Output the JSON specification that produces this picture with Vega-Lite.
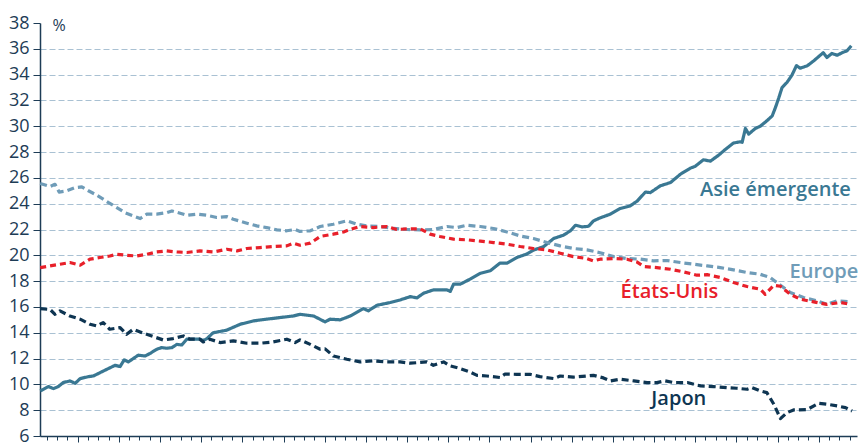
{
"$schema": "https://vega.github.io/schema/vega-lite/v6.json",
"width": 817, "height": 413,
"autosize": {"type": "none"},
"padding": {"left": 40, "top": 23, "right": 5, "bottom": 9},
"config": {"view": {"stroke": null}, "font": "Open Sans"},
"datasets": {
"series": [
{"serie":"Asie","annee":2004.09,"part":9.49},{"serie":"Asie","annee":2004.29,"part":9.83},{"serie":"Asie","annee":2004.41,"part":9.67},{"serie":"Asie","annee":2004.53,"part":9.83},{"serie":"Asie","annee":2004.65,"part":10.14},{"serie":"Asie","annee":2004.81,"part":10.27},{"serie":"Asie","annee":2004.94,"part":10.08},{"serie":"Asie","annee":2005.06,"part":10.45},{"serie":"Asie","annee":2005.26,"part":10.6},{"serie":"Asie","annee":2005.38,"part":10.65},{"serie":"Asie","annee":2005.54,"part":10.9},{"serie":"Asie","annee":2005.71,"part":11.17},{"serie":"Asie","annee":2005.91,"part":11.48},{"serie":"Asie","annee":2006.03,"part":11.38},{"serie":"Asie","annee":2006.13,"part":11.9},{"serie":"Asie","annee":2006.23,"part":11.74},{"serie":"Asie","annee":2006.35,"part":12.0},{"serie":"Asie","annee":2006.47,"part":12.26},{"serie":"Asie","annee":2006.64,"part":12.2},{"serie":"Asie","annee":2006.76,"part":12.4},{"serie":"Asie","annee":2006.92,"part":12.72},{"serie":"Asie","annee":2007.04,"part":12.85},{"serie":"Asie","annee":2007.16,"part":12.8},{"serie":"Asie","annee":2007.29,"part":12.85},{"serie":"Asie","annee":2007.41,"part":13.1},{"serie":"Asie","annee":2007.53,"part":13.05},{"serie":"Asie","annee":2007.65,"part":13.5},{"serie":"Asie","annee":2007.81,"part":13.5},{"serie":"Asie","annee":2007.97,"part":13.5},{"serie":"Asie","annee":2008.05,"part":13.4},{"serie":"Asie","annee":2008.14,"part":13.55},{"serie":"Asie","annee":2008.29,"part":14.0},{"serie":"Asie","annee":2008.62,"part":14.2},{"serie":"Asie","annee":2008.95,"part":14.66},{"serie":"Asie","annee":2009.27,"part":14.92},{"serie":"Asie","annee":2009.59,"part":15.05},{"serie":"Asie","annee":2009.92,"part":15.18},{"serie":"Asie","annee":2010.24,"part":15.3},{"serie":"Asie","annee":2010.40,"part":15.43},{"serie":"Asie","annee":2010.73,"part":15.3},{"serie":"Asie","annee":2011.01,"part":14.84},{"serie":"Asie","annee":2011.13,"part":15.05},{"serie":"Asie","annee":2011.38,"part":15.0},{"serie":"Asie","annee":2011.62,"part":15.3},{"serie":"Asie","annee":2011.94,"part":15.87},{"serie":"Asie","annee":2012.06,"part":15.7},{"serie":"Asie","annee":2012.27,"part":16.13},{"serie":"Asie","annee":2012.59,"part":16.34},{"serie":"Asie","annee":2012.83,"part":16.54},{"serie":"Asie","annee":2013.08,"part":16.8},{"serie":"Asie","annee":2013.24,"part":16.7},{"serie":"Asie","annee":2013.40,"part":17.06},{"serie":"Asie","annee":2013.64,"part":17.32},{"serie":"Asie","annee":2013.97,"part":17.32},{"serie":"Asie","annee":2014.05,"part":17.2},{"serie":"Asie","annee":2014.13,"part":17.76},{"serie":"Asie","annee":2014.29,"part":17.76},{"serie":"Asie","annee":2014.53,"part":18.15},{"serie":"Asie","annee":2014.78,"part":18.6},{"serie":"Asie","annee":2015.02,"part":18.8},{"serie":"Asie","annee":2015.26,"part":19.4},{"serie":"Asie","annee":2015.43,"part":19.4},{"serie":"Asie","annee":2015.67,"part":19.83},{"serie":"Asie","annee":2015.91,"part":20.1},{"serie":"Asie","annee":2016.07,"part":20.4},{"serie":"Asie","annee":2016.32,"part":20.68},{"serie":"Asie","annee":2016.56,"part":21.3},{"serie":"Asie","annee":2016.80,"part":21.56},{"serie":"Asie","annee":2016.97,"part":21.9},{"serie":"Asie","annee":2017.09,"part":22.33},{"serie":"Asie","annee":2017.25,"part":22.2},{"serie":"Asie","annee":2017.41,"part":22.25},{"serie":"Asie","annee":2017.53,"part":22.67},{"serie":"Asie","annee":2017.69,"part":22.9},{"serie":"Asie","annee":2017.94,"part":23.19},{"serie":"Asie","annee":2018.18,"part":23.63},{"serie":"Asie","annee":2018.42,"part":23.83},{"serie":"Asie","annee":2018.59,"part":24.2},{"serie":"Asie","annee":2018.79,"part":24.9},{"serie":"Asie","annee":2018.91,"part":24.86},{"serie":"Asie","annee":2019.15,"part":25.38},{"serie":"Asie","annee":2019.40,"part":25.64},{"serie":"Asie","annee":2019.64,"part":26.28},{"serie":"Asie","annee":2019.88,"part":26.75},{"serie":"Asie","annee":2020.00,"part":26.9},{"serie":"Asie","annee":2020.20,"part":27.4},{"serie":"Asie","annee":2020.37,"part":27.3},{"serie":"Asie","annee":2020.57,"part":27.76},{"serie":"Asie","annee":2020.73,"part":28.2},{"serie":"Asie","annee":2020.93,"part":28.7},{"serie":"Asie","annee":2021.10,"part":28.8},{"serie":"Asie","annee":2021.14,"part":28.75},{"serie":"Asie","annee":2021.22,"part":29.83},{"serie":"Asie","annee":2021.30,"part":29.39},{"serie":"Asie","annee":2021.46,"part":29.83},{"serie":"Asie","annee":2021.58,"part":30.0},{"serie":"Asie","annee":2021.74,"part":30.42},{"serie":"Asie","annee":2021.87,"part":30.8},{"serie":"Asie","annee":2021.95,"part":31.46},{"serie":"Asie","annee":2022.03,"part":32.2},{"serie":"Asie","annee":2022.11,"part":33.0},{"serie":"Asie","annee":2022.23,"part":33.4},{"serie":"Asie","annee":2022.35,"part":33.96},{"serie":"Asie","annee":2022.46,"part":34.7},{"serie":"Asie","annee":2022.55,"part":34.5},{"serie":"Asie","annee":2022.72,"part":34.68},{"serie":"Asie","annee":2022.88,"part":35.07},{"serie":"Asie","annee":2023.00,"part":35.4},{"serie":"Asie","annee":2023.11,"part":35.7},{"serie":"Asie","annee":2023.20,"part":35.33},{"serie":"Asie","annee":2023.32,"part":35.64},{"serie":"Asie","annee":2023.45,"part":35.5},{"serie":"Asie","annee":2023.57,"part":35.7},{"serie":"Asie","annee":2023.69,"part":35.85},{"serie":"Asie","annee":2023.79,"part":36.23},
{"serie":"Europe","annee":2004.09,"part":25.57},{"serie":"Europe","annee":2004.33,"part":25.33},{"serie":"Europe","annee":2004.45,"part":25.5},{"serie":"Europe","annee":2004.55,"part":24.9},{"serie":"Europe","annee":2004.73,"part":24.99},{"serie":"Europe","annee":2004.94,"part":25.25},{"serie":"Europe","annee":2005.10,"part":25.3},{"serie":"Europe","annee":2005.26,"part":25.0},{"serie":"Europe","annee":2005.42,"part":24.74},{"serie":"Europe","annee":2005.62,"part":24.35},{"serie":"Europe","annee":2005.74,"part":24.1},{"serie":"Europe","annee":2005.95,"part":23.7},{"serie":"Europe","annee":2006.15,"part":23.3},{"serie":"Europe","annee":2006.35,"part":23.05},{"serie":"Europe","annee":2006.52,"part":22.85},{"serie":"Europe","annee":2006.68,"part":23.19},{"serie":"Europe","annee":2006.92,"part":23.19},{"serie":"Europe","annee":2007.16,"part":23.3},{"serie":"Europe","annee":2007.29,"part":23.44},{"serie":"Europe","annee":2007.49,"part":23.26},{"serie":"Europe","annee":2007.65,"part":23.1},{"serie":"Europe","annee":2007.89,"part":23.19},{"serie":"Europe","annee":2008.14,"part":23.1},{"serie":"Europe","annee":2008.38,"part":22.93},{"serie":"Europe","annee":2008.62,"part":23.0},{"serie":"Europe","annee":2008.78,"part":22.8},{"serie":"Europe","annee":2009.11,"part":22.49},{"serie":"Europe","annee":2009.35,"part":22.28},{"serie":"Europe","annee":2009.59,"part":22.15},{"serie":"Europe","annee":2009.84,"part":21.97},{"serie":"Europe","annee":2010.08,"part":21.9},{"serie":"Europe","annee":2010.28,"part":22.0},{"serie":"Europe","annee":2010.40,"part":21.85},{"serie":"Europe","annee":2010.65,"part":21.9},{"serie":"Europe","annee":2010.89,"part":22.23},{"serie":"Europe","annee":2011.21,"part":22.41},{"serie":"Europe","annee":2011.54,"part":22.67},{"serie":"Europe","annee":2011.78,"part":22.41},{"serie":"Europe","annee":2012.02,"part":22.28},{"serie":"Europe","annee":2012.35,"part":22.23},{"serie":"Europe","annee":2012.67,"part":22.08},{"serie":"Europe","annee":2013.00,"part":22.0},{"serie":"Europe","annee":2013.32,"part":21.97},{"serie":"Europe","annee":2013.64,"part":22.0},{"serie":"Europe","annee":2013.97,"part":22.23},{"serie":"Europe","annee":2014.21,"part":22.15},{"serie":"Europe","annee":2014.45,"part":22.33},{"serie":"Europe","annee":2014.78,"part":22.23},{"serie":"Europe","annee":2015.10,"part":22.08},{"serie":"Europe","annee":2015.43,"part":21.81},{"serie":"Europe","annee":2015.75,"part":21.5},{"serie":"Europe","annee":2016.07,"part":21.3},{"serie":"Europe","annee":2016.40,"part":20.99},{"serie":"Europe","annee":2016.72,"part":20.73},{"serie":"Europe","annee":2017.04,"part":20.53},{"serie":"Europe","annee":2017.37,"part":20.42},{"serie":"Europe","annee":2017.69,"part":20.2},{"serie":"Europe","annee":2018.02,"part":19.9},{"serie":"Europe","annee":2018.34,"part":19.75},{"serie":"Europe","annee":2018.67,"part":19.7},{"serie":"Europe","annee":2018.99,"part":19.57},{"serie":"Europe","annee":2019.31,"part":19.6},{"serie":"Europe","annee":2019.64,"part":19.44},{"serie":"Europe","annee":2019.96,"part":19.31},{"serie":"Europe","annee":2020.29,"part":19.18},{"serie":"Europe","annee":2020.61,"part":19.05},{"serie":"Europe","annee":2020.93,"part":18.87},{"serie":"Europe","annee":2021.26,"part":18.67},{"serie":"Europe","annee":2021.58,"part":18.53},{"serie":"Europe","annee":2021.82,"part":18.28},{"serie":"Europe","annee":2022.07,"part":17.68},{"serie":"Europe","annee":2022.31,"part":17.12},{"serie":"Europe","annee":2022.63,"part":16.73},{"serie":"Europe","annee":2022.96,"part":16.47},{"serie":"Europe","annee":2023.20,"part":16.2},{"serie":"Europe","annee":2023.45,"part":16.47},{"serie":"Europe","annee":2023.77,"part":16.39},
{"serie":"États-Unis","annee":2004.09,"part":19.05},{"serie":"États-Unis","annee":2004.33,"part":19.18},{"serie":"États-Unis","annee":2004.57,"part":19.31},{"serie":"États-Unis","annee":2004.81,"part":19.44},{"serie":"États-Unis","annee":2005.06,"part":19.23},{"serie":"États-Unis","annee":2005.30,"part":19.7},{"serie":"États-Unis","annee":2005.54,"part":19.83},{"serie":"États-Unis","annee":2005.78,"part":19.95},{"serie":"États-Unis","annee":2005.95,"part":20.08},{"serie":"États-Unis","annee":2006.19,"part":20.0},{"serie":"États-Unis","annee":2006.43,"part":19.95},{"serie":"États-Unis","annee":2006.68,"part":20.08},{"serie":"États-Unis","annee":2006.92,"part":20.26},{"serie":"États-Unis","annee":2007.16,"part":20.34},{"serie":"États-Unis","annee":2007.41,"part":20.26},{"serie":"États-Unis","annee":2007.65,"part":20.22},{"serie":"États-Unis","annee":2007.97,"part":20.34},{"serie":"États-Unis","annee":2008.30,"part":20.26},{"serie":"États-Unis","annee":2008.62,"part":20.47},{"serie":"États-Unis","annee":2008.87,"part":20.34},{"serie":"États-Unis","annee":2009.11,"part":20.53},{"serie":"États-Unis","annee":2009.43,"part":20.6},{"serie":"États-Unis","annee":2009.75,"part":20.68},{"serie":"États-Unis","annee":2010.08,"part":20.73},{"serie":"États-Unis","annee":2010.24,"part":20.94},{"serie":"États-Unis","annee":2010.40,"part":20.78},{"serie":"États-Unis","annee":2010.65,"part":20.94},{"serie":"États-Unis","annee":2010.89,"part":21.46},{"serie":"États-Unis","annee":2011.21,"part":21.64},{"serie":"États-Unis","annee":2011.46,"part":21.81},{"serie":"États-Unis","annee":2011.62,"part":22.0},{"serie":"États-Unis","annee":2011.86,"part":22.23},{"serie":"États-Unis","annee":2012.18,"part":22.15},{"serie":"États-Unis","annee":2012.51,"part":22.23},{"serie":"États-Unis","annee":2012.75,"part":22.0},{"serie":"États-Unis","annee":2013.00,"part":22.05},{"serie":"États-Unis","annee":2013.32,"part":22.05},{"serie":"États-Unis","annee":2013.56,"part":21.64},{"serie":"États-Unis","annee":2013.80,"part":21.46},{"serie":"États-Unis","annee":2014.13,"part":21.25},{"serie":"États-Unis","annee":2014.45,"part":21.2},{"serie":"États-Unis","annee":2014.78,"part":21.1},{"serie":"États-Unis","annee":2015.10,"part":20.99},{"serie":"États-Unis","annee":2015.43,"part":20.86},{"serie":"États-Unis","annee":2015.75,"part":20.68},{"serie":"États-Unis","annee":2016.07,"part":20.53},{"serie":"États-Unis","annee":2016.40,"part":20.42},{"serie":"États-Unis","annee":2016.72,"part":20.16},{"serie":"États-Unis","annee":2017.04,"part":19.9},{"serie":"États-Unis","annee":2017.37,"part":19.75},{"serie":"États-Unis","annee":2017.53,"part":19.57},{"serie":"États-Unis","annee":2017.69,"part":19.7},{"serie":"États-Unis","annee":2018.02,"part":19.75},{"serie":"États-Unis","annee":2018.34,"part":19.7},{"serie":"États-Unis","annee":2018.58,"part":19.49},{"serie":"États-Unis","annee":2018.75,"part":19.13},{"serie":"États-Unis","annee":2019.07,"part":19.05},{"serie":"États-Unis","annee":2019.40,"part":18.92},{"serie":"États-Unis","annee":2019.72,"part":18.71},{"serie":"États-Unis","annee":2020.04,"part":18.46},{"serie":"États-Unis","annee":2020.29,"part":18.5},{"serie":"États-Unis","annee":2020.61,"part":18.28},{"serie":"États-Unis","annee":2020.93,"part":17.89},{"serie":"États-Unis","annee":2021.26,"part":17.58},{"serie":"États-Unis","annee":2021.58,"part":17.37},{"serie":"États-Unis","annee":2021.70,"part":16.98},{"serie":"États-Unis","annee":2021.91,"part":17.68},{"serie":"États-Unis","annee":2022.07,"part":17.6},{"serie":"États-Unis","annee":2022.31,"part":16.98},{"serie":"États-Unis","annee":2022.55,"part":16.6},{"serie":"États-Unis","annee":2022.88,"part":16.39},{"serie":"États-Unis","annee":2023.20,"part":16.2},{"serie":"États-Unis","annee":2023.53,"part":16.34},{"serie":"États-Unis","annee":2023.77,"part":16.2},
{"serie":"Japon","annee":2004.09,"part":15.87},{"serie":"Japon","annee":2004.33,"part":15.8},{"serie":"Japon","annee":2004.45,"part":15.43},{"serie":"Japon","annee":2004.57,"part":15.69},{"serie":"Japon","annee":2004.81,"part":15.3},{"serie":"Japon","annee":2005.06,"part":15.05},{"serie":"Japon","annee":2005.30,"part":14.66},{"serie":"Japon","annee":2005.46,"part":14.53},{"serie":"Japon","annee":2005.62,"part":14.79},{"serie":"Japon","annee":2005.78,"part":14.27},{"serie":"Japon","annee":2006.03,"part":14.4},{"serie":"Japon","annee":2006.19,"part":13.88},{"serie":"Japon","annee":2006.35,"part":14.27},{"serie":"Japon","annee":2006.60,"part":13.96},{"serie":"Japon","annee":2006.84,"part":13.7},{"serie":"Japon","annee":2007.08,"part":13.44},{"serie":"Japon","annee":2007.32,"part":13.55},{"serie":"Japon","annee":2007.57,"part":13.75},{"serie":"Japon","annee":2007.73,"part":13.5},{"serie":"Japon","annee":2007.97,"part":13.5},{"serie":"Japon","annee":2008.05,"part":13.29},{"serie":"Japon","annee":2008.21,"part":13.5},{"serie":"Japon","annee":2008.46,"part":13.24},{"serie":"Japon","annee":2008.78,"part":13.37},{"serie":"Japon","annee":2009.11,"part":13.19},{"serie":"Japon","annee":2009.43,"part":13.19},{"serie":"Japon","annee":2009.75,"part":13.29},{"serie":"Japon","annee":2010.08,"part":13.5},{"serie":"Japon","annee":2010.28,"part":13.24},{"serie":"Japon","annee":2010.40,"part":13.45},{"serie":"Japon","annee":2010.65,"part":13.1},{"serie":"Japon","annee":2010.89,"part":12.72},{"serie":"Japon","annee":2011.01,"part":12.75},{"serie":"Japon","annee":2011.21,"part":12.2},{"serie":"Japon","annee":2011.54,"part":11.95},{"serie":"Japon","annee":2011.86,"part":11.74},{"serie":"Japon","annee":2012.18,"part":11.82},{"serie":"Japon","annee":2012.51,"part":11.74},{"serie":"Japon","annee":2012.83,"part":11.74},{"serie":"Japon","annee":2013.08,"part":11.64},{"serie":"Japon","annee":2013.32,"part":11.7},{"serie":"Japon","annee":2013.48,"part":11.74},{"serie":"Japon","annee":2013.64,"part":11.48},{"serie":"Japon","annee":2013.89,"part":11.74},{"serie":"Japon","annee":2014.05,"part":11.43},{"serie":"Japon","annee":2014.29,"part":11.23},{"serie":"Japon","annee":2014.53,"part":10.96},{"serie":"Japon","annee":2014.70,"part":10.7},{"serie":"Japon","annee":2014.94,"part":10.65},{"serie":"Japon","annee":2015.26,"part":10.53},{"serie":"Japon","annee":2015.38,"part":10.8},{"serie":"Japon","annee":2015.67,"part":10.78},{"serie":"Japon","annee":2015.99,"part":10.78},{"serie":"Japon","annee":2016.23,"part":10.6},{"serie":"Japon","annee":2016.56,"part":10.45},{"serie":"Japon","annee":2016.72,"part":10.65},{"serie":"Japon","annee":2017.04,"part":10.56},{"serie":"Japon","annee":2017.37,"part":10.65},{"serie":"Japon","annee":2017.53,"part":10.7},{"serie":"Japon","annee":2017.77,"part":10.5},{"serie":"Japon","annee":2017.94,"part":10.27},{"serie":"Japon","annee":2018.18,"part":10.4},{"serie":"Japon","annee":2018.51,"part":10.27},{"serie":"Japon","annee":2018.83,"part":10.14},{"serie":"Japon","annee":2019.07,"part":10.14},{"serie":"Japon","annee":2019.27,"part":10.27},{"serie":"Japon","annee":2019.48,"part":10.14},{"serie":"Japon","annee":2019.81,"part":10.14},{"serie":"Japon","annee":2020.13,"part":9.88},{"serie":"Japon","annee":2020.45,"part":9.83},{"serie":"Japon","annee":2020.77,"part":9.75},{"serie":"Japon","annee":2021.01,"part":9.7},{"serie":"Japon","annee":2021.26,"part":9.62},{"serie":"Japon","annee":2021.38,"part":9.75},{"serie":"Japon","annee":2021.58,"part":9.49},{"serie":"Japon","annee":2021.74,"part":9.36},{"serie":"Japon","annee":2021.91,"part":8.46},{"serie":"Japon","annee":2022.07,"part":7.35},{"serie":"Japon","annee":2022.23,"part":7.81},{"serie":"Japon","annee":2022.39,"part":8.02},{"serie":"Japon","annee":2022.72,"part":8.05},{"serie":"Japon","annee":2023.00,"part":8.53},{"serie":"Japon","annee":2023.20,"part":8.46},{"serie":"Japon","annee":2023.45,"part":8.33},{"serie":"Japon","annee":2023.65,"part":8.2},{"serie":"Japon","annee":2023.81,"part":7.94}
],
"etiquettes": [
{"serie":"Asie","label":"Asie émergente","annee":2023.78,"part":25.05},
{"serie":"Europe","label":"Europe","annee":2023.96,"part":18.69},
{"serie":"États-Unis","label":"États-Unis","annee":2020.56,"part":17.14},
{"serie":"Japon","label":"Japon","annee":2020.27,"part":8.84}
]
},
"encoding": {
"x": {"field": "annee", "type": "quantitative",
  "scale": {"domain": [2004.085, 2023.93], "nice": false, "zero": false},
  "axis": {"orient": "bottom", "labels": false, "title": null, "grid": false, "tickCount": 200,
    "domainColor": "#1d3c56", "domainWidth": 1.5, "tickColor": "#1d3c56", "tickWidth": 1,
    "tickSize": {"condition": {"test": "datum.value % 1 === 0", "value": 6}, "value": 4},
    "values": [2004.25,2004.5,2004.75,2005,2005.25,2005.5,2005.75,2006,2006.25,2006.5,2006.75,2007,2007.25,2007.5,2007.75,2008,2008.25,2008.5,2008.75,2009,2009.25,2009.5,2009.75,2010,2010.25,2010.5,2010.75,2011,2011.25,2011.5,2011.75,2012,2012.25,2012.5,2012.75,2013,2013.25,2013.5,2013.75,2014,2014.25,2014.5,2014.75,2015,2015.25,2015.5,2015.75,2016,2016.25,2016.5,2016.75,2017,2017.25,2017.5,2017.75,2018,2018.25,2018.5,2018.75,2019,2019.25,2019.5,2019.75,2020,2020.25,2020.5,2020.75,2021,2021.25,2021.5,2021.75,2022,2022.25,2022.5,2022.75,2023,2023.25,2023.5,2023.75]}},
"y": {"field": "part", "type": "quantitative",
  "scale": {"domain": [6, 38], "nice": false, "zero": false},
  "axis": {"values": [6,8,10,12,14,16,18,20,22,24,26,28,30,32,34,36,38], "tickCount": 40,
    "labelOverlap": false, "labelBound": false, "labelFlush": false,
    "domainColor": "#1d3c56", "domainWidth": 1.5, "tickColor": "#1d3c56", "tickSize": 7, "tickWidth": 1,
    "labelFontSize": 18, "labelColor": "#1d3c56", "labelPadding": 4, "labelFont": "Open Sans",
    "grid": true, "gridColor": "#a9c1d3", "gridDash": [6, 3], "gridWidth": 1,
    "gridOpacity": {"condition": {"test": "datum.value === 38 || datum.value === 6", "value": 0}, "value": 1},
    "title": "%", "titleAngle": 0, "titleAlign": "left", "titleBaseline": "middle",
    "titleX": 12, "titleY": 2, "titleFontSize": 16, "titleFontWeight": "normal", "titleColor": "#1d3c56"}}
},
"layer": [
{
"data": {"name": "series"},
"mark": {"type": "line", "strokeWidth": 3.2, "strokeCap": "butt", "strokeJoin": "round"},
"encoding": {
"color": {"field": "serie", "type": "nominal",
  "scale": {"domain": ["Europe", "États-Unis", "Japon", "Asie"], "range": ["#6f9cb8", "#e8202a", "#0e3552", "#3a7893"]},
  "legend": null},
"strokeDash": {"field": "serie", "type": "nominal",
  "scale": {"domain": ["Europe", "États-Unis", "Japon", "Asie"], "range": [[7, 4], [6, 4], [7, 4], [1, 0]]},
  "legend": null}
}
},
{
"data": {"name": "etiquettes"},
"mark": {"type": "text", "align": "right", "baseline": "middle", "fontSize": 20, "fontWeight": 600, "font": "Open Sans"},
"encoding": {
"text": {"field": "label"},
"color": {"field": "serie", "type": "nominal", "legend": null}
}
}
]
}
